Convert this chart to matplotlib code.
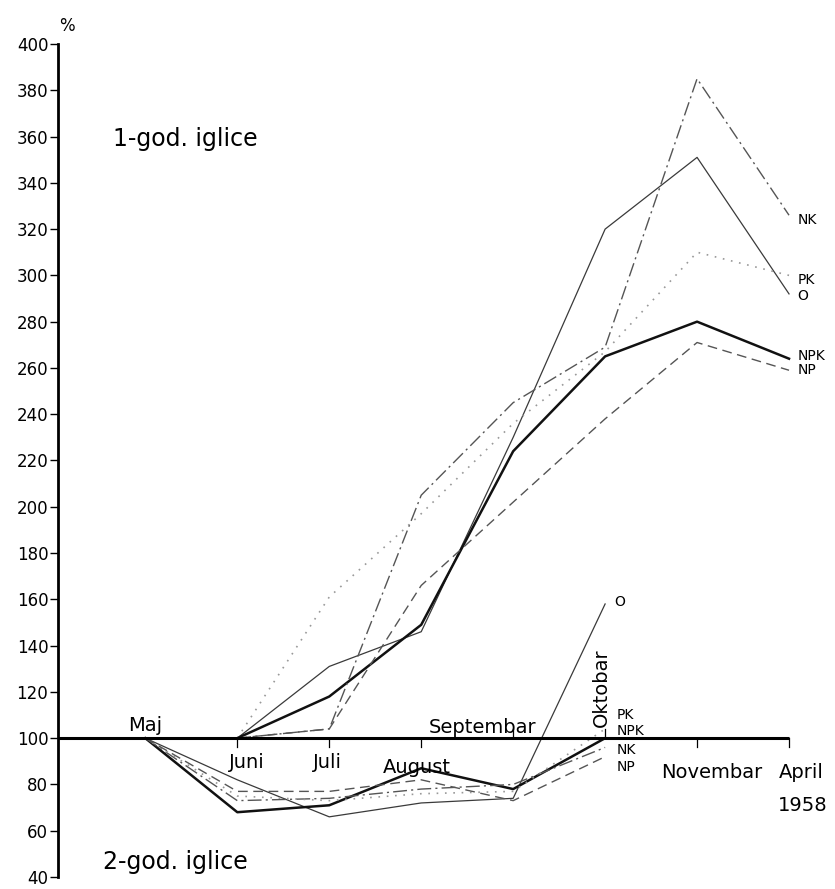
import matplotlib
matplotlib.use('Agg')
import matplotlib.pyplot as plt

plt.rcParams['font.family'] = ['DejaVu Sans']

# month positions (Maj 1957 ... April 1958)
months = ['Maj', 'Juni', 'Juli', 'August', 'Septembar', 'Oktobar', 'Novembar', 'April']
x_all = [1, 2, 3, 4, 5, 6, 7, 8]

# 1-god. iglice: Juni .. April
x_one = [2, 3, 4, 5, 6, 7, 8]
one_O = [100, 131, 146, 230, 320, 351, 292]
one_NPK = [100, 118, 149, 224, 265, 280, 264]
one_NK = [100, 104, 205, 245, 269, 385, 326]
one_PK = [100, 161, 197, 236, 267, 310, 300]
one_NP = [100, 104, 166, 202, 238, 271, 259]

# 2-god. iglice: Maj .. Oktobar
x_two = [1, 2, 3, 4, 5, 6]
two_O = [100, 82, 66, 72, 74, 158]
two_NPK = [100, 68, 71, 87, 78, 100]
two_NK = [100, 73, 74, 78, 80, 96]
two_PK = [100, 75, 73, 76, 77, 104]
two_NP = [100, 77, 77, 82, 73, 92]

styles = {
    'O':   dict(color='#3a3a3a', lw=0.9, linestyle='-'),
    'NPK': dict(color='#111111', lw=1.8, linestyle='-'),
    'NK':  dict(color='#555555', lw=1.0, linestyle=(0, (10, 3, 1.5, 3))),
    'PK':  dict(color='#999999', lw=1.2, linestyle=(0, (1, 4))),
    'NP':  dict(color='#555555', lw=1.0, linestyle=(0, (7, 4))),
}

fig = plt.figure(figsize=(8.35, 8.89), dpi=100)
ax = fig.add_axes([58 / 835, 12 / 889, 777 / 835, 833 / 889])
ax.set_xlim(0.05, 8.5)
ax.set_ylim(40, 400)

for s in ['top', 'right', 'bottom']:
    ax.spines[s].set_visible(False)
ax.spines['left'].set_linewidth(2)
ax.set_xticks([])
ax.set_yticks(range(40, 401, 20))
ax.tick_params(axis='y', direction='out', length=6, width=1, labelsize=12, pad=1)

# baseline at 100 %
ax.plot([0.05, 8.0], [100, 100], color='black', lw=2.2, zorder=3, solid_capstyle='butt')
for xm in x_all[1:]:
    if xm in (5, 6):
        ax.plot([xm, xm], [100, 104], color='black', lw=0.9)
    else:
        ax.plot([xm, xm], [100, 96], color='black', lw=0.9)

series_one = {'O': one_O, 'NPK': one_NPK, 'NK': one_NK, 'PK': one_PK, 'NP': one_NP}
series_two = {'O': two_O, 'NPK': two_NPK, 'NK': two_NK, 'PK': two_PK, 'NP': two_NP}
for name, vals in series_one.items():
    ax.plot(x_one, vals, **styles[name])
for name, vals in series_two.items():
    ax.plot(x_two, vals, **styles[name])

# end labels
ends_one = {'NK': 324, 'PK': 298, 'O': 291, 'NPK': 265, 'NP': 259}
for name, yv in ends_one.items():
    ax.text(8.09, yv, name, fontsize=10, va='center', ha='left', clip_on=False)
ends_two = {'PK': 110, 'NPK': 103, 'NK': 95, 'NP': 87.5}
for name, yv in ends_two.items():
    ax.text(6.12, yv, name, fontsize=10, va='center', ha='left')
ax.text(6.1, two_O[-1] + 1, 'O', fontsize=10, va='center', ha='left')

# month labels
ax.text(1.0, 105.5, months[0], fontsize=14, ha='center', va='center')
ax.text(2.1, 89.6, months[1], fontsize=14, ha='center', va='center')
ax.text(2.98, 89.6, months[2], fontsize=14, ha='center', va='center')
ax.text(3.95, 87.5, months[3], fontsize=14, ha='center', va='center')
ax.text(4.67, 104.7, months[4], fontsize=14, ha='center', va='center')
ax.text(5.96, 122, months[5], fontsize=14, ha='center', va='center', rotation=90)
ax.text(7.16, 85.3, months[6], fontsize=14, ha='center', va='center')
ax.text(8.13, 85.3, months[7], fontsize=14, ha='center', va='center', clip_on=False)
ax.text(8.15, 71, '1958', fontsize=14, ha='center', va='center', clip_on=False)

ax.text(0.65, 359, '1-god. iglice', fontsize=17, ha='left', va='center')
ax.text(0.54, 46.5, '2-god. iglice', fontsize=17, ha='left', va='center')
ax.text(0.15, 407.7, '%', fontsize=12, ha='center', va='center', clip_on=False)

plt.savefig('out.png', dpi=100)
